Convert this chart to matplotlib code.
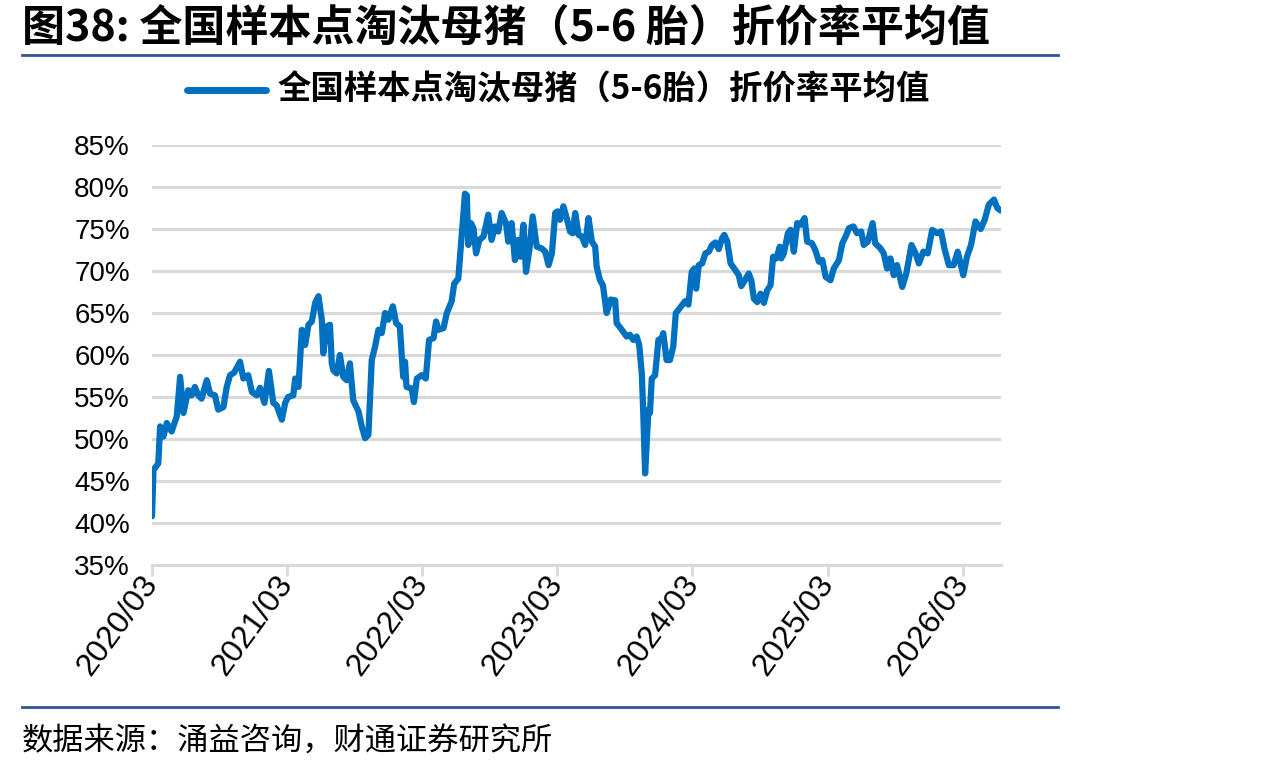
import matplotlib
matplotlib.use("Agg")
import matplotlib.pyplot as plt
import pandas as pd
from matplotlib.lines import Line2D

plt.rcParams['font.family'] = ['Noto Sans CJK SC', 'DejaVu Sans']

title = "图38: 全国样本点淘汰母猪（5-6 胎）折价率平均值"
series_name = "全国样本点淘汰母猪（5-6胎）折价率平均值"
source = "数据来源：涌益咨询，财通证券研究所"

dates = [
    "2020-03-01", "2020-03-05", "2020-03-18", "2020-03-23", "2020-04-01", "2020-04-10", "2020-04-23",
    "2020-05-07", "2020-05-16", "2020-05-25", "2020-06-07", "2020-06-16", "2020-06-25", "2020-07-04",
    "2020-07-13", "2020-07-27", "2020-08-05", "2020-08-18", "2020-08-27", "2020-09-10", "2020-09-19",
    "2020-09-28", "2020-10-09", "2020-10-25", "2020-11-03", "2020-11-16", "2020-11-26", "2020-12-09",
    "2020-12-18", "2020-12-30", "2021-01-11", "2021-01-23", "2021-02-01", "2021-02-15", "2021-02-24",
    "2021-03-04", "2021-03-18", "2021-03-23", "2021-04-01", "2021-04-10", "2021-04-19", "2021-04-28",
    "2021-05-07", "2021-05-16", "2021-05-25", "2021-06-03", "2021-06-07", "2021-06-16", "2021-06-25",
    "2021-06-30", "2021-07-04", "2021-07-13", "2021-07-22", "2021-07-31", "2021-08-09", "2021-08-18",
    "2021-08-23", "2021-08-27", "2021-09-10", "2021-09-19", "2021-09-28", "2021-10-07", "2021-10-16",
    "2021-10-25", "2021-11-03", "2021-11-12", "2021-11-21", "2021-11-30", "2021-12-12", "2021-12-21",
    "2021-12-31", "2022-01-09", "2022-01-14", "2022-01-18", "2022-02-01", "2022-02-07", "2022-02-15",
    "2022-02-28", "2022-03-11", "2022-03-20", "2022-04-01", "2022-04-08", "2022-04-14", "2022-04-28",
    "2022-05-07", "2022-05-20", "2022-05-27", "2022-06-07", "2022-06-16", "2022-06-25", "2022-06-30",
    "2022-07-04", "2022-07-11", "2022-07-18", "2022-07-25", "2022-08-03", "2022-08-14", "2022-08-27",
    "2022-09-05", "2022-09-14", "2022-09-23", "2022-10-02", "2022-10-14", "2022-10-20", "2022-10-29",
    "2022-11-07", "2022-11-16", "2022-11-22", "2022-11-30", "2022-12-07", "2022-12-16", "2022-12-25",
    "2023-01-05", "2023-01-18", "2023-01-28", "2023-02-06", "2023-02-15", "2023-02-24", "2023-03-02",
    "2023-03-09", "2023-03-18", "2023-03-27", "2023-04-05", "2023-04-12", "2023-04-19", "2023-04-28",
    "2023-05-07", "2023-05-16", "2023-05-25", "2023-06-03", "2023-06-12", "2023-06-16", "2023-06-25",
    "2023-07-03", "2023-07-13", "2023-07-24", "2023-08-05", "2023-08-09", "2023-08-23", "2023-09-05",
    "2023-09-14", "2023-09-23", "2023-10-02", "2023-10-09", "2023-10-16", "2023-10-20", "2023-10-25",
    "2023-11-03", "2023-11-07", "2023-11-12", "2023-11-21", "2023-11-30", "2023-12-09", "2023-12-13",
    "2023-12-22", "2023-12-31", "2024-01-09", "2024-01-16", "2024-01-27", "2024-02-10", "2024-02-19",
    "2024-02-28", "2024-03-06", "2024-03-11", "2024-03-18", "2024-03-27", "2024-04-05", "2024-04-14",
    "2024-04-23", "2024-05-02", "2024-05-11", "2024-05-20", "2024-05-26", "2024-06-03", "2024-06-12",
    "2024-06-25", "2024-07-04", "2024-07-11", "2024-07-18", "2024-07-31", "2024-08-07", "2024-08-14",
    "2024-08-23", "2024-09-01", "2024-09-10", "2024-09-19", "2024-09-28", "2024-10-05", "2024-10-14",
    "2024-10-23", "2024-10-27", "2024-11-03", "2024-11-14", "2024-11-21", "2024-11-30", "2024-12-09",
    "2024-12-18", "2024-12-29", "2025-01-05", "2025-01-18", "2025-01-27", "2025-02-06", "2025-02-15",
    "2025-02-24", "2025-03-09", "2025-03-18", "2025-04-01", "2025-04-10", "2025-04-19", "2025-04-28",
    "2025-05-10", "2025-05-20", "2025-05-31", "2025-06-07", "2025-06-18", "2025-07-01", "2025-07-08",
    "2025-07-22", "2025-07-31", "2025-08-09", "2025-08-18", "2025-08-27", "2025-09-05", "2025-09-19",
    "2025-09-30", "2025-10-14", "2025-10-25", "2025-11-03", "2025-11-15", "2025-11-27", "2025-12-09",
    "2025-12-22", "2026-01-02", "2026-01-11", "2026-01-23", "2026-02-05", "2026-02-16", "2026-03-03",
    "2026-03-13", "2026-03-24", "2026-04-05", "2026-04-19", "2026-04-30", "2026-05-11", "2026-05-25",
    "2026-06-03", "2026-06-12",
]

values = [
    40.8, 46.3, 47.1, 51.5, 50.3, 51.9, 50.9,
    52.7, 57.4, 53.1, 55.8, 55.2, 56.2, 55.2,
    54.8, 57.0, 55.4, 55.2, 53.5, 53.8, 56.2,
    57.6, 57.9, 59.2, 57.2, 57.6, 55.6, 55.2,
    56.1, 54.3, 58.1, 54.3, 54.0, 52.3, 54.3,
    55.0, 55.2, 57.2, 56.2, 63.0, 61.2, 63.6,
    64.0, 66.2, 67.0, 64.2, 60.2, 63.4, 63.6,
    59.0, 58.2, 57.8, 60.0, 57.4, 57.0, 59.0,
    56.6, 54.6, 53.3, 51.5, 50.1, 50.5, 59.4,
    61.0, 63.0, 62.6, 65.0, 64.2, 65.8, 63.8,
    63.4, 57.4, 59.2, 56.2, 56.0, 54.4, 57.2,
    57.6, 57.2, 61.8, 62.0, 64.0, 63.0, 63.2,
    65.0, 66.4, 68.5, 69.1, 74.1, 79.2, 79.0,
    73.1, 75.7, 75.1, 72.1, 73.7, 74.1, 76.7,
    73.7, 75.3, 74.7, 76.9, 75.7, 73.5, 75.7,
    71.3, 73.7, 71.7, 75.5, 69.9, 72.5, 76.5,
    72.9, 72.7, 72.3, 70.7, 72.1, 76.9, 77.1,
    76.1, 77.7, 76.3, 74.7, 74.5, 76.9, 74.3,
    74.1, 73.1, 76.3, 73.5, 72.9, 70.5, 68.9,
    68.3, 65.0, 66.6, 66.5, 63.8, 63.0, 62.2,
    62.4, 61.8, 62.2, 61.2, 57.8, 53.1, 45.9,
    53.5, 53.1, 57.2, 57.6, 61.8, 62.0, 62.6,
    59.4, 59.4, 61.0, 65.0, 65.6, 66.4, 66.0,
    69.9, 70.3, 67.9, 70.7, 70.9, 72.1, 72.3,
    73.1, 73.4, 72.6, 73.9, 74.3, 73.5, 70.9,
    70.1, 69.5, 68.2, 68.7, 69.7, 68.9, 66.7,
    66.3, 67.3, 66.2, 67.7, 68.3, 71.7, 71.5,
    72.9, 71.5, 72.1, 74.5, 74.9, 72.3, 75.7,
    75.5, 76.3, 73.5, 73.3, 72.5, 71.1, 71.3,
    69.3, 68.9, 70.3, 71.3, 73.3, 74.1, 75.1,
    75.3, 74.5, 74.7, 73.1, 73.5, 75.7, 73.3,
    72.7, 72.1, 70.3, 71.5, 69.5, 70.7, 68.1,
    69.7, 73.1, 72.1, 70.9, 72.3, 72.1, 74.9,
    74.5, 74.7, 72.7, 70.7, 70.7, 72.3, 69.5,
    71.7, 73.1, 75.9, 75.0, 76.1, 77.9, 78.5,
    77.5, 77.2,
]

tick_dates = ["2020-03-01", "2021-03-01", "2022-03-01", "2023-03-01",
              "2024-03-01", "2025-03-01", "2026-03-01"]
tick_labels = ["2020/03", "2021/03", "2022/03", "2023/03", "2024/03", "2025/03", "2026/03"]
y_ticks = [35, 40, 45, 50, 55, 60, 65, 70, 75, 80, 85]
y_labels = [f"{v}%" for v in y_ticks]

x = pd.to_datetime(dates)

W, H = 1274, 773
fig = plt.figure(figsize=(W / 100, H / 100), dpi=100)
ax = fig.add_axes([152 / W, 1 - 565 / H, (1001 - 152) / W, (565 - 145) / H])

line_color = "#0070C0"
grid_color = "#D9D9D9"
tick_font = ["Liberation Sans", "DejaVu Sans"]

for v in y_ticks[1:]:
    ax.axhline(v, color=grid_color, lw=2.2, zorder=1)
ax.plot(x, values, color=line_color, lw=4.5, solid_joinstyle="round",
        solid_capstyle="round", zorder=3)

ax.set_ylim(35, 85)
ax.set_xlim(pd.Timestamp("2020-03-01"), pd.Timestamp("2026-06-13"))
ax.set_yticks(y_ticks)
ax.set_yticklabels(y_labels, family=tick_font, fontsize=20)
ax.set_xticks(pd.to_datetime(tick_dates))
ax.set_xticklabels(tick_labels, family=tick_font, fontsize=23, rotation=54,
                   ha="right", va="center", rotation_mode="anchor")
ax.tick_params(axis="y", length=0, pad=16)
ax.tick_params(axis="x", length=8, width=2, color=grid_color, pad=2)
for s in ["left", "right", "top"]:
    ax.spines[s].set_visible(False)
ax.spines["bottom"].set_color(grid_color)
ax.spines["bottom"].set_linewidth(2.2)

# title and rules
fig.text(22 / W, 1 - 28 / H, title, fontsize=31, fontweight="bold", va="center", ha="left")
fig.add_artist(Line2D([22 / W, 1058 / W], [1 - 55 / H, 1 - 55 / H], color="#2F5597", lw=2))
fig.add_artist(Line2D([22 / W, 1058 / W], [1 - 707 / H, 1 - 707 / H], color="#2F5597", lw=2))

# legend
fig.add_artist(Line2D([187 / W, 266 / W], [1 - 90 / H, 1 - 90 / H], color=line_color,
                      lw=5, solid_capstyle="round"))
fig.text(278 / W, 1 - 90 / H, series_name, fontsize=24, fontweight="bold", va="center", ha="left")

# source
fig.text(22 / W, 1 - 742 / H, source, fontsize=22.5, va="center", ha="left")

fig.savefig("out.png", dpi=100)
